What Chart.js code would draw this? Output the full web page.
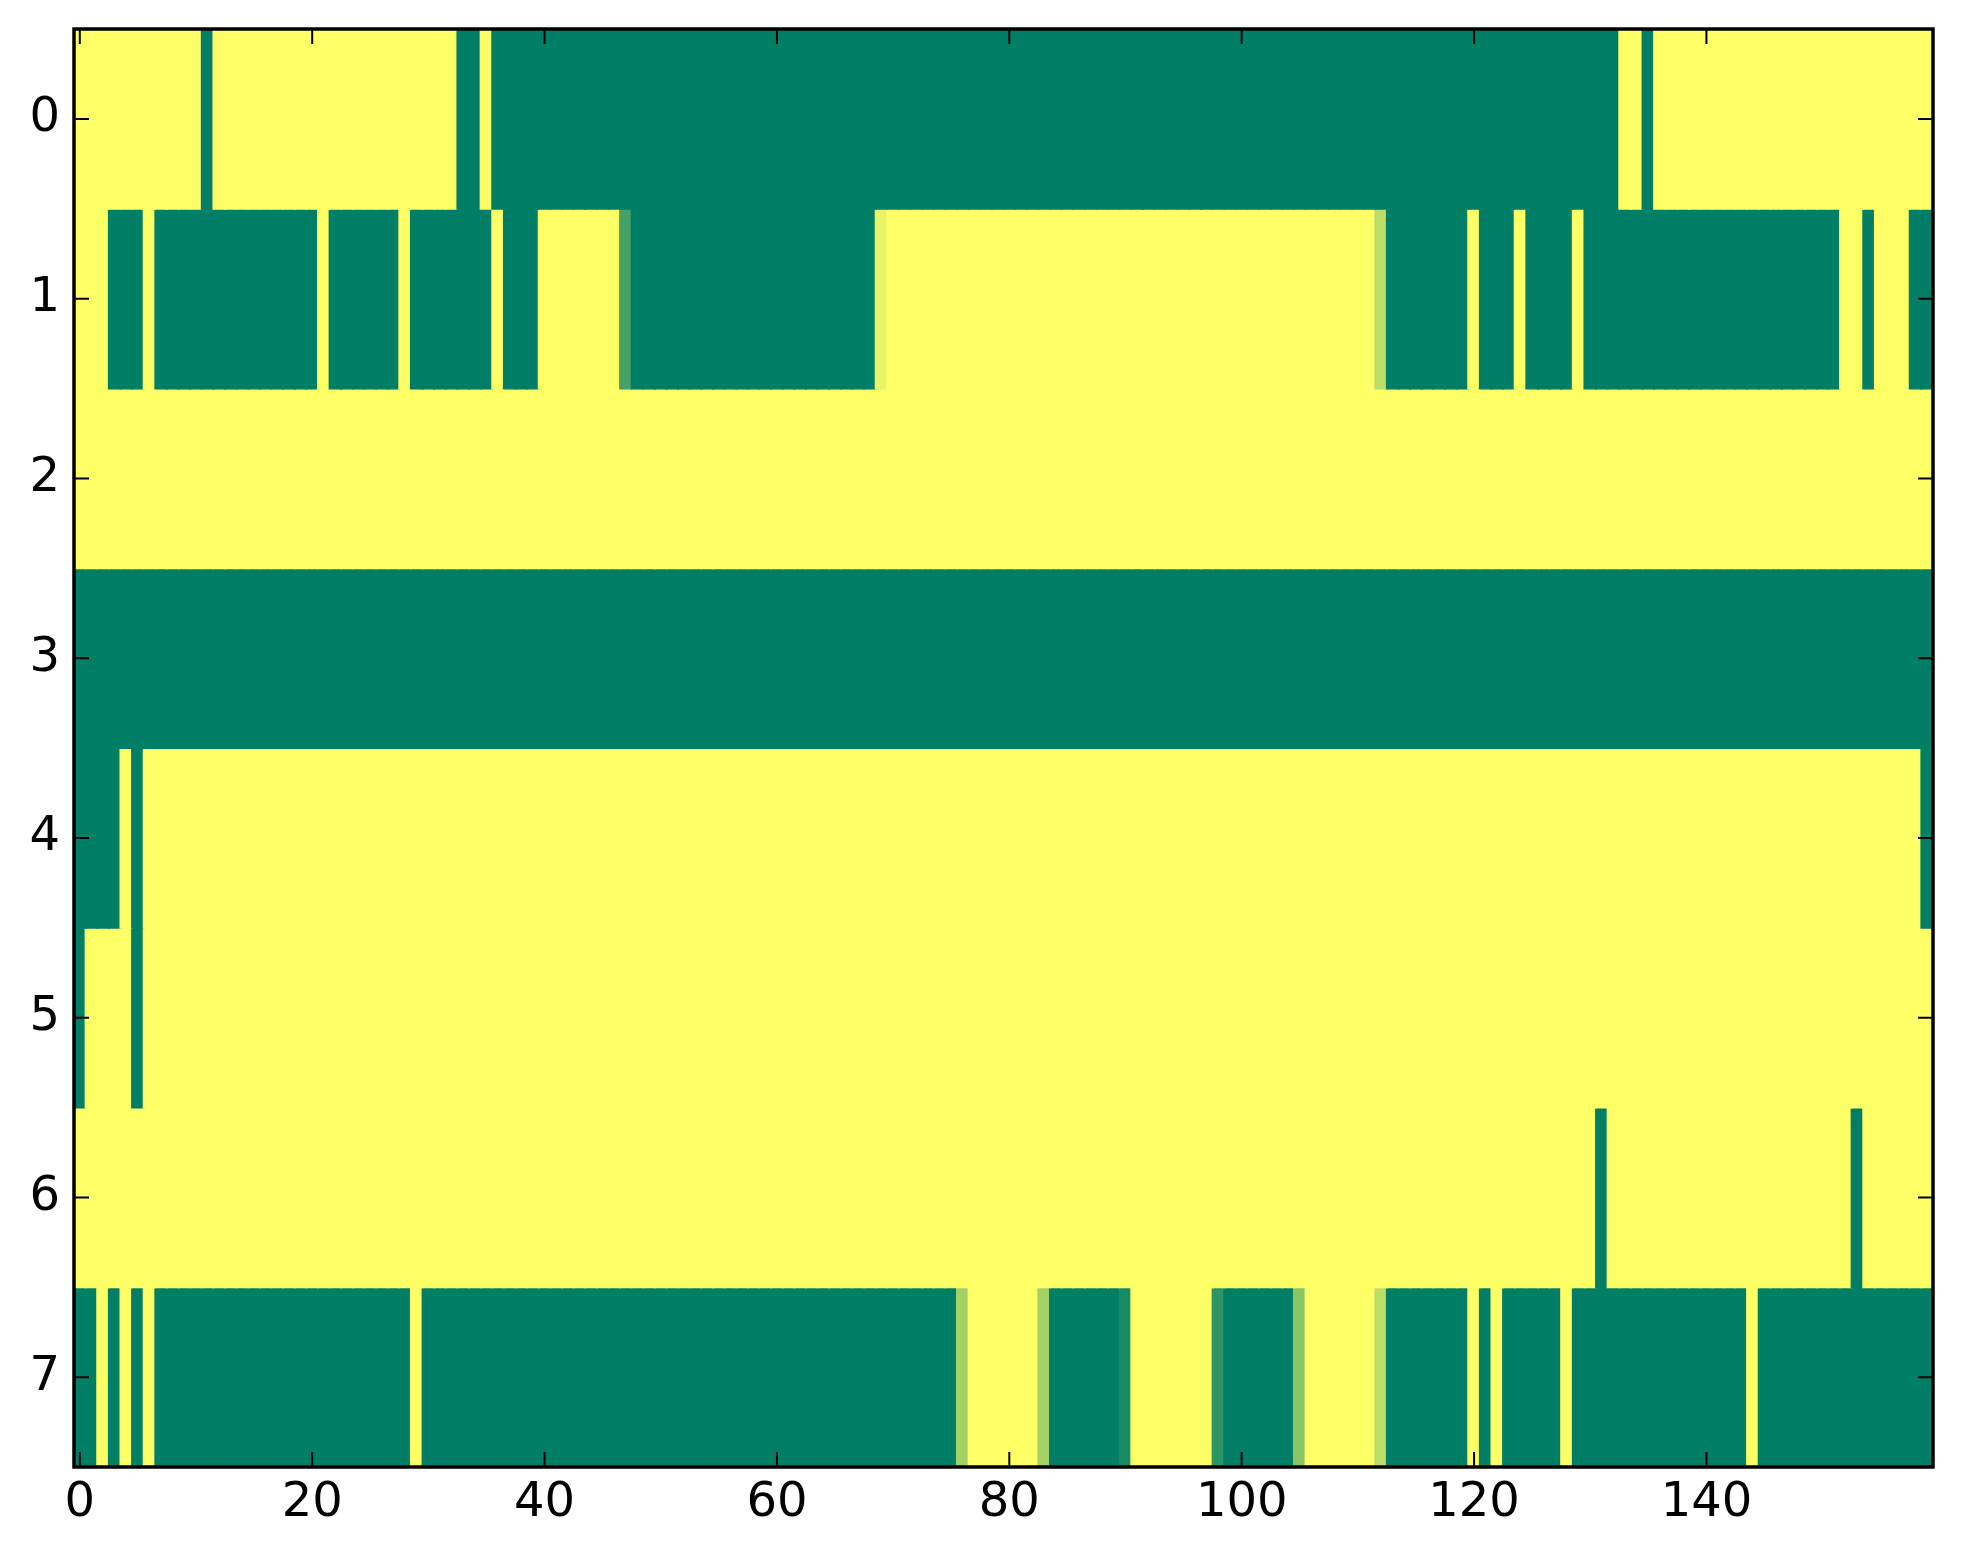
<!DOCTYPE html>
<html>
<head>
<meta charset="utf-8">
<title>Heatmap</title>
<script src="https://cdn.jsdelivr.net/npm/chart.js@4.4.1/dist/chart.umd.min.js"></script>
<style>
  html, body { margin: 0; padding: 0; background: #fff; }
  #wrap { width: 1963px; height: 1564px; }
</style>
</head>
<body>
<div id="wrap"><canvas id="myChart" width="1963" height="1564"></canvas></div>
<script>
// Start Data
const xTicks = [0, 20, 40, 60, 80, 100, 120, 140];
const yTicks = [0, 1, 2, 3, 4, 5, 6, 7];

const row0 = [
  1,1,1,1,1,1,1,1,1,1, 1,0,1,1,1,1,1,1,1,1,
  1,1,1,1,1,1,1,1,1,1, 1,1,1,0,0,1,0,0,0,0,
  0,0,0,0,0,0,0,0,0,0, 0,0,0,0,0,0,0,0,0,0,
  0,0,0,0,0,0,0,0,0,0, 0,0,0,0,0,0,0,0,0,0,
  0,0,0,0,0,0,0,0,0,0, 0,0,0,0,0,0,0,0,0,0,
  0,0,0,0,0,0,0,0,0,0, 0,0,0,0,0,0,0,0,0,0,
  0,0,0,0,0,0,0,0,0,0, 0,0,0,1,1,0,1,1,1,1,
  1,1,1,1,1,1,1,1,1,1, 1,1,1,1,1,1,1,1,1,1
];
const row1 = [
  1,1,1,0,0,0,1,0,0,0, 0,0,0,0,0,0,0,0,0,0,
  0,1,0,0,0,0,0,0,1,0, 0,0,0,0,0,0,1,0,0,0,
  1,1,1,1,1,1,1,0.27,0,0, 0,0,0,0,0,0,0,0,0,0,
  0,0,0,0,0,0,0,0,0,0.91, 1,1,1,1,1,1,1,1,1,1,
  1,1,1,1,1,1,1,1,1,1, 1,1,1,1,1,1,1,1,1,1,
  1,1,1,1,1,1,1,1,1,1, 1,1,0.74,0,0,0,0,0,0,0,
  1,0,0,0,1,0,0,0,0,1, 0,0,0,0,0,0,0,0,0,0,
  0,0,0,0,0,0,0,0,0,0, 0,0,1,1,0,1,1,1,0,0
];
const row2 = [
  1,1,1,1,1,1,1,1,1,1, 1,1,1,1,1,1,1,1,1,1,
  1,1,1,1,1,1,1,1,1,1, 1,1,1,1,1,1,1,1,1,1,
  1,1,1,1,1,1,1,1,1,1, 1,1,1,1,1,1,1,1,1,1,
  1,1,1,1,1,1,1,1,1,1, 1,1,1,1,1,1,1,1,1,1,
  1,1,1,1,1,1,1,1,1,1, 1,1,1,1,1,1,1,1,1,1,
  1,1,1,1,1,1,1,1,1,1, 1,1,1,1,1,1,1,1,1,1,
  1,1,1,1,1,1,1,1,1,1, 1,1,1,1,1,1,1,1,1,1,
  1,1,1,1,1,1,1,1,1,1, 1,1,1,1,1,1,1,1,1,1
];
const row3 = [
  0,0,0,0,0,0,0,0,0,0, 0,0,0,0,0,0,0,0,0,0,
  0,0,0,0,0,0,0,0,0,0, 0,0,0,0,0,0,0,0,0,0,
  0,0,0,0,0,0,0,0,0,0, 0,0,0,0,0,0,0,0,0,0,
  0,0,0,0,0,0,0,0,0,0, 0,0,0,0,0,0,0,0,0,0,
  0,0,0,0,0,0,0,0,0,0, 0,0,0,0,0,0,0,0,0,0,
  0,0,0,0,0,0,0,0,0,0, 0,0,0,0,0,0,0,0,0,0,
  0,0,0,0,0,0,0,0,0,0, 0,0,0,0,0,0,0,0,0,0,
  0,0,0,0,0,0,0,0,0,0, 0,0,0,0,0,0,0,0,0,0
];
const row4 = [
  0,0,0,0,1,0,1,1,1,1, 1,1,1,1,1,1,1,1,1,1,
  1,1,1,1,1,1,1,1,1,1, 1,1,1,1,1,1,1,1,1,1,
  1,1,1,1,1,1,1,1,1,1, 1,1,1,1,1,1,1,1,1,1,
  1,1,1,1,1,1,1,1,1,1, 1,1,1,1,1,1,1,1,1,1,
  1,1,1,1,1,1,1,1,1,1, 1,1,1,1,1,1,1,1,1,1,
  1,1,1,1,1,1,1,1,1,1, 1,1,1,1,1,1,1,1,1,1,
  1,1,1,1,1,1,1,1,1,1, 1,1,1,1,1,1,1,1,1,1,
  1,1,1,1,1,1,1,1,1,1, 1,1,1,1,1,1,1,1,1,0
];
const row5 = [
  0,1,1,1,1,0,1,1,1,1, 1,1,1,1,1,1,1,1,1,1,
  1,1,1,1,1,1,1,1,1,1, 1,1,1,1,1,1,1,1,1,1,
  1,1,1,1,1,1,1,1,1,1, 1,1,1,1,1,1,1,1,1,1,
  1,1,1,1,1,1,1,1,1,1, 1,1,1,1,1,1,1,1,1,1,
  1,1,1,1,1,1,1,1,1,1, 1,1,1,1,1,1,1,1,1,1,
  1,1,1,1,1,1,1,1,1,1, 1,1,1,1,1,1,1,1,1,1,
  1,1,1,1,1,1,1,1,1,1, 1,1,1,1,1,1,1,1,1,1,
  1,1,1,1,1,1,1,1,1,1, 1,1,1,1,1,1,1,1,1,1
];
const row6 = [
  1,1,1,1,1,1,1,1,1,1, 1,1,1,1,1,1,1,1,1,1,
  1,1,1,1,1,1,1,1,1,1, 1,1,1,1,1,1,1,1,1,1,
  1,1,1,1,1,1,1,1,1,1, 1,1,1,1,1,1,1,1,1,1,
  1,1,1,1,1,1,1,1,1,1, 1,1,1,1,1,1,1,1,1,1,
  1,1,1,1,1,1,1,1,1,1, 1,1,1,1,1,1,1,1,1,1,
  1,1,1,1,1,1,1,1,1,1, 1,1,1,1,1,1,1,1,1,1,
  1,1,1,1,1,1,1,1,1,1, 1,0,1,1,1,1,1,1,1,1,
  1,1,1,1,1,1,1,1,1,1, 1,1,1,0,1,1,1,1,1,1
];
const row7 = [
  0,0,1,0,1,0,1,0,0,0, 0,0,0,0,0,0,0,0,0,0,
  0,0,0,0,0,0,0,0,0,1, 0,0,0,0,0,0,0,0,0,0,
  0,0,0,0,0,0,0,0,0,0, 0,0,0,0,0,0,0,0,0,0,
  0,0,0,0,0,0,0,0,0,0, 0,0,0,0,0,0,0.64,1,1,1,
  1,1,1,0.64,0,0,0,0,0,0, 0.09,1,1,1,1,1,1,1,0.18,0,
  0,0,0,0,0,0.55,1,1,1,1, 1,1,0.74,0,0,0,0,0,0,0,
  1,0,1,0,0,0,0,0,1,0, 0,0,0,0,0,0,0,0,0,0,
  0,0,0,0,1,0,0,0,0,0, 0,0,0,0,0,0,0,0,0,0
];
const rows = [row0, row1, row2, row3, row4, row5, row6, row7];
// End Data

// summer colormap: 0 -> green, 1 -> yellow
function summer(v) {
  const r = Math.round(255 * v);
  const g = Math.round(127 + 128 * v);
  return 'rgb(' + r + ',' + g + ',102)';
}

// Start Frame and inner ticks
const frameTicks = {
  id: 'frameTicks',
  afterDraw(chart) {
    const c = chart.ctx;
    const a = chart.chartArea;
    const xs = chart.scales.x;
    const ys = chart.scales.y;
    c.save();
    c.strokeStyle = '#000';
    c.lineWidth = 2;
    c.beginPath();
    xTicks.forEach(function(v){
      const px = xs.getPixelForValue(v);
      c.moveTo(px, a.bottom); c.lineTo(px, a.bottom - 15);
      c.moveTo(px, a.top); c.lineTo(px, a.top + 15);
    });
    yTicks.forEach(function(v){
      const py = ys.getPixelForValue(v);
      c.moveTo(a.left, py); c.lineTo(a.left + 15, py);
      c.moveTo(a.right, py); c.lineTo(a.right - 15, py);
    });
    c.stroke();
    c.lineWidth = 3.5;
    c.strokeRect(a.left, a.top, a.right - a.left, a.bottom - a.top);
    c.restore();
  }
};
// End Frame and inner ticks

// Start Heatmap
Chart.defaults.font.family = 'DejaVu Sans';
Chart.defaults.font.size = 48;
Chart.defaults.color = '#000';

const ctx = document.getElementById('myChart');

new Chart(ctx, {
  type: 'bar',
  data: {
    datasets: rows.map(function(vals, r){
      return {
        data: vals.map(function(v, c){ return {x: c, y: [r - 0.5, r + 0.5]}; }),
        backgroundColor: vals.map(summer),
        borderWidth: 0,
        inflateAmount: 1,
        grouped: false,
        barPercentage: 1,
        categoryPercentage: 1
      };
    })
  },
  options: {
    responsive: false,
    devicePixelRatio: 1,
    animation: false,
    layout: { padding: { left: 0, top: 29, right: 30, bottom: 0 } },
    plugins: { legend: { display: false }, tooltip: { enabled: false } },
    scales: {
      x: {
        type: 'linear',
        offset: false,
        min: -0.5,
        max: 159.5,
        grid: { display: false, drawTicks: false, offset: false },
        border: { display: false },
        ticks: { padding: 8, maxRotation: 0 },
        afterBuildTicks: function(scale){ scale.ticks = xTicks.map(function(v){ return {value: v}; }); },
        afterFit: function(scale){
          scale.height = 97;
          scale.paddingLeft = 0; scale.paddingRight = 0;
        }
      },
      y: {
        type: 'linear',
        reverse: true,
        min: -0.5,
        max: 7.5,
        grid: { display: false, drawTicks: false },
        border: { display: false },
        ticks: { padding: 14 },
        afterBuildTicks: function(scale){ scale.ticks = yTicks.map(function(v){ return {value: v}; }); },
        afterFit: function(scale){
          scale.width = 74;
          scale.paddingTop = 0; scale.paddingBottom = 0;
        }
      }
    }
  },
  plugins: [frameTicks]
});
// End Heatmap
</script>
</body>
</html>
